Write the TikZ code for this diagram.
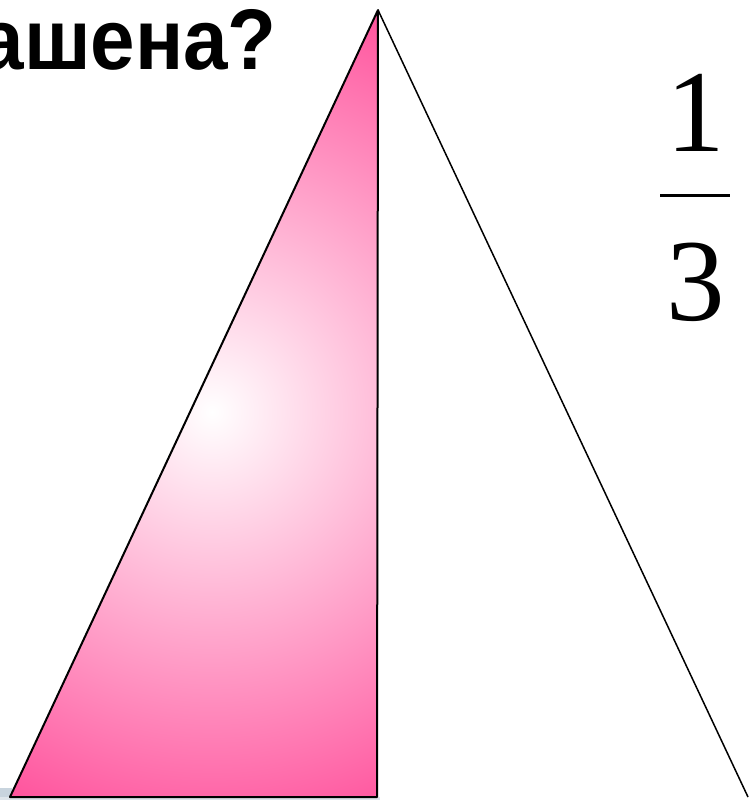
\documentclass[tikz,border=0pt]{standalone}
\usepackage{fontspec}
\usepackage{graphicx}
\setmainfont{Liberation Serif}
\newfontfamily\headfont{Liberation Sans}
\definecolor{deeppink}{RGB}{255,10,115}
\definecolor{greyblue}{RGB}{200,212,222}
\tikzset{
  edge/.style={line width=2pt, line join=round},
  thinedge/.style={line width=1.5pt},
  bigdigit/.style={font=\fontsize{117}{117}\selectfont, inner sep=0pt},
}
\begin{document}
\begin{tikzpicture}[x=1pt,y=-1pt]
\useasboundingbox (0,0) rectangle (748,800);
\fill[greyblue] (0,788) rectangle (12,800);
\fill[greyblue!60] (0,797) rectangle (380,800);
\coordinate (apex) at (378,10);
\coordinate (bl) at (10,797);
\coordinate (bm) at (377,797);
\coordinate (br) at (748,797);
\begin{scope}
  \clip (apex) -- (bl) -- (bm) -- cycle;
  \shade[inner color=white, outer color=deeppink] (212,412) circle (620pt);
\end{scope}
\draw[edge] (apex) -- (bl) -- (bm) -- cycle;
\draw[thinedge] (apex) -- (br);
\node[anchor=base east, inner sep=0pt, font=\headfont\bfseries\fontsize{86}{86}\selectfont] (q) at (277,70) {\scalebox{0.93}[1]{ашена?}};
\node[bigdigit, anchor=base] (one) at (696,151) {1};
\node[bigdigit, anchor=base] (three) at (696,320) {3};
\coordinate (barl) at (660,195);
\coordinate (barr) at (730,195);
\draw[line width=3pt] (barl) -- (barr);
\end{tikzpicture}
\end{document}
